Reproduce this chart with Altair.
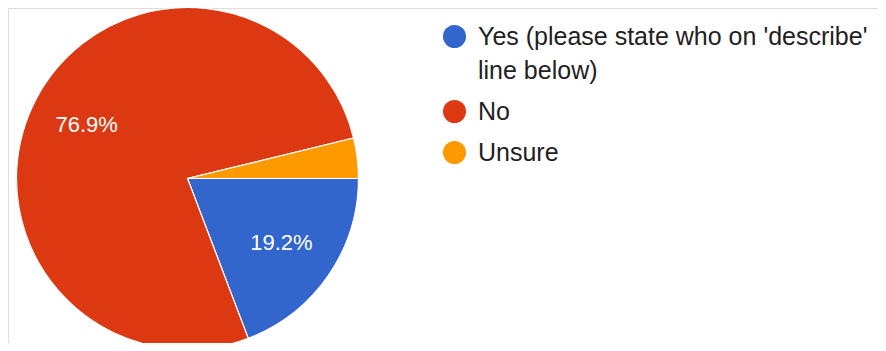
import altair as alt
import pandas as pd

categories = ["Yes (please state who on 'describe' line below)", "No", "Unsure"]
values = [19.2, 76.9, 3.8]
labels = ["19.2%", "76.9%", ""]
colors = ["#3366CC", "#DC3912", "#FF9900"]
order = [0, 1, 2]

df = pd.DataFrame({"category": categories, "value": values, "label": labels, "order": order})

CX, CY, R = 179.5, 170.5, 171

theta = alt.Theta("value:Q", stack=True,
                  scale=alt.Scale(range=[1.5707963, 1.5707963 + 6.2831853]))

wrap = ("length(datum.label) > 36 ? "
        "[substring(datum.label, 0, lastindexof(substring(datum.label, 0, 37), ' ')), "
        "substring(datum.label, lastindexof(substring(datum.label, 0, 37), ' ') + 1)] "
        ": datum.label")

base = alt.Chart(df).encode(
    theta=theta,
    order=alt.Order("order:Q", sort="ascending"),
)

pie = base.mark_arc(outerRadius=R, stroke="white", strokeWidth=1.2).encode(
    x=alt.value(CX), y=alt.value(CY),
    color=alt.Color("category:N",
                    scale=alt.Scale(domain=categories, range=colors),
                    sort=categories,
                    legend=alt.Legend(
                        title=None, orient="none", legendX=434, legendY=16,
                        symbolType="circle", symbolSize=531, symbolStrokeWidth=0,
                        labelFont="Liberation Sans", labelFontSize=25,
                        labelColor="#222222", labelOffset=11, labelLimit=600,
                        rowPadding=15, labelExpr=wrap,
                    )),
)

text = base.mark_text(radius=114, font="Liberation Sans", fontSize=22,
                      color="white").encode(
    x=alt.value(CX), y=alt.value(CY),
    text="label:N",
)

chart = (pie + text).properties(
    width=870, height=335, padding=0, autosize="none"
).configure_view(stroke="transparent", strokeWidth=0).configure(
    style={"guide-label": {"lineHeight": 34}}
)

chart.save("out.html", embed_options={"renderer": "svg", "actions": False})
